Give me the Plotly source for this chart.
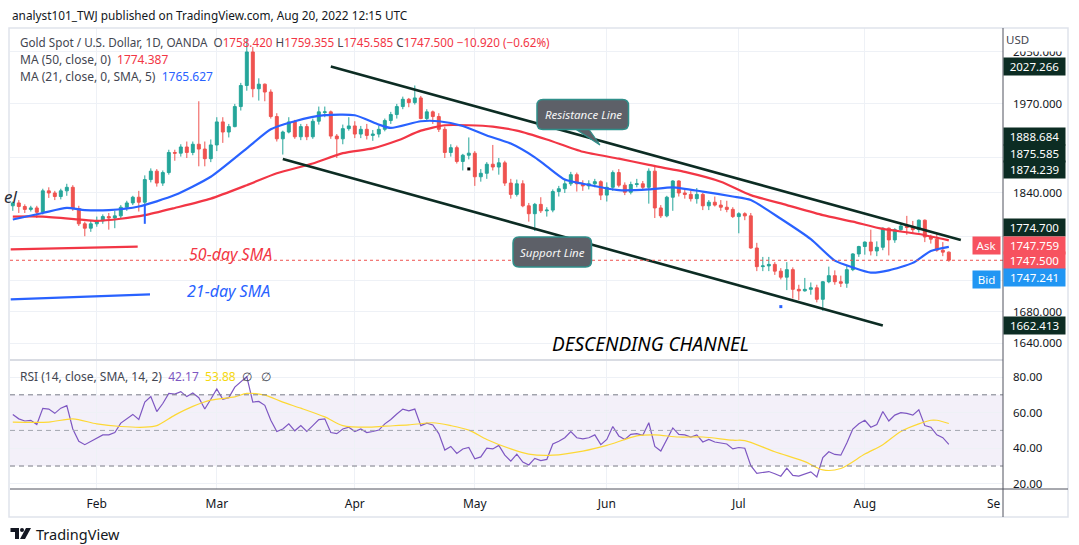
import numpy as np
import pandas as pd
import plotly.graph_objects as go

# ---------------- data ----------------
HOLIDAYS = ["2022-04-15"]
FIRST_DAY = "2022-01-12"
LAST_DAY = "2022-08-19"

OPEN = [1822,1826,1821,1817,1819,1813,1843,1840,1835,1843,1848,1818,1797,1791,
        1797,1801,1807,1805,1808,1820,1826,1834,1827,1859,1871,1854,1869,1898,1897,1906,1898,1910,1903,1889,
        1909,1943,1928,1936,1966,1998,2050,1993,2000,1988,1951,1918,1928,1943,1921,1936,1921,1944,1957,1958,1922,1918,1933,
        1937,1925,1932,1923,1925,1932,1945,1954,1966,1977,1972,1979,1948,1958,1951,1932,1898,1905,1885,1894,
        1897,1863,1868,1881,1877,1883,1854,1838,1853,1822,1811,1824,1815,1816,1842,1846,1853,1866,1853,1850,1853,1856,
        1837,1848,1869,1851,1841,1852,1853,1848,1871,1819,1808,1834,1857,1840,1838,1832,1838,1822,1827,1823,1820,1817,
        1807,1811,1808,1764,1739,1740,1742,1733,1725,1735,1709,1707,1709,1711,1696,1719,1727,1719,1717,1735,1756,
        1766,1772,1760,1765,1791,1775,1789,1794,1792,1789,1802,1779,1776,1761,1758.42]
HIGH = [1828,1830,1824,1822,1822,1846,1848,1843,1846,1853,1851,1822,1800,1801,
        1807,1810,1812,1815,1823,1829,1836,1843,1865,1875,1874,1872,1902,1902,1910,1914,1914,1974,1914,1917,
        1950,1950,1940,1970,2002,2070,2058,2009,2001,1992,1956,1930,1950,1946,1940,1940,1948,1966,1966,1960,1925,1939,1950,
        1944,1937,1940,1931,1937,1948,1958,1970,1981,1979,1998,1982,1962,1960,1956,1936,1910,1908,1896,1920,
        1900,1874,1884,1909,1890,1886,1860,1859,1858,1826,1826,1834,1820,1845,1850,1860,1870,1869,1858,1858,1860,1858,
        1855,1872,1874,1855,1856,1860,1857,1875,1880,1823,1836,1858,1858,1846,1843,1847,1840,1830,1835,1830,1829,1820,
        1813,1813,1812,1771,1752,1752,1745,1737,1745,1738,1715,1724,1718,1715,1720,1739,1734,1727,1740,1757,1767,
        1773,1789,1773,1792,1792,1791,1798,1808,1801,1803,1803,1782,1784,1772,1759.355]
LOW = [1815,1812,1812,1814,1805,1810,1833,1830,1831,1836,1815,1794,1780,1786,
       1793,1797,1789,1791,1805,1815,1823,1814,1823,1855,1849,1850,1866,1886,1892,1890,1894,1878,1878,1884,
       1900,1912,1920,1935,1960,1990,1980,1975,1974,1948,1914,1895,1926,1918,1916,1916,1918,1939,1950,1918,1890,1910,1930,
       1919,1919,1917,1915,1920,1929,1940,1948,1962,1965,1969,1947,1945,1940,1928,1890,1892,1882,1872,1888,
       1850,1856,1860,1872,1866,1850,1832,1835,1820,1800,1787,1812,1807,1813,1835,1840,1850,1842,1843,1845,1848,1830,
       1828,1843,1848,1837,1838,1848,1844,1825,1805,1805,1806,1815,1835,1832,1828,1825,1816,1816,1821,1815,1813,1805,
       1784,1802,1763,1733,1733,1733,1728,1722,1708,1697,1695,1706,1702,1692,1681,1717,1715,1712,1711,1733,1752,
       1755,1754,1753,1761,1754,1771,1786,1782,1784,1785,1772,1770,1759,1753,1745.585]
CLOSE = [1826,1821,1817,1819,1813,1843,1840,1835,1843,1848,1818,1797,1791,1797,
         1801,1807,1805,1808,1820,1826,1834,1827,1859,1871,1854,1869,1898,1897,1906,1898,1910,1903,1889,1909,
         1943,1928,1936,1966,1998,2050,1993,2000,1988,1951,1918,1928,1943,1921,1936,1921,1944,1958,1958,1922,1918,1933,1937,
         1925,1932,1923,1925,1932,1945,1954,1966,1977,1972,1979,1948,1958,1951,1932,1898,1905,1885,1894,1897,
         1863,1868,1881,1877,1883,1854,1838,1853,1822,1811,1824,1815,1816,1842,1846,1853,1866,1853,1850,1853,1856,1837,
         1848,1869,1851,1841,1852,1853,1848,1871,1819,1808,1834,1857,1840,1838,1832,1838,1822,1827,1823,1820,1817,1807,
         1811,1808,1764,1739,1740,1742,1733,1725,1735,1709,1707,1709,1711,1696,1719,1727,1719,1717,1735,1756,1766,
         1772,1760,1765,1791,1775,1789,1794,1792,1789,1802,1779,1776,1761,1758.42,1747.5]

MA50_DATES = ["2022-01-12","2022-01-19","2022-01-27","2022-02-01","2022-02-07","2022-02-11","2022-02-18",
              "2022-02-28","2022-03-08","2022-03-15","2022-03-23","2022-03-30","2022-04-06","2022-04-12",
              "2022-04-19","2022-04-25","2022-04-29","2022-05-05","2022-05-11","2022-05-18","2022-05-26",
              "2022-06-03","2022-06-10","2022-06-20","2022-06-28","2022-07-05","2022-07-13","2022-07-21",
              "2022-07-28","2022-08-04","2022-08-12","2022-08-19"]
MA50_VALUES = [1807,1807,1803,1801,1804,1809,1819,1832,1851,1868,1882,1897,1904,1915,1930,1938,1938,1936,
               1930,1917,1899,1889,1880,1870,1856,1837,1823,1809,1800,1790,1783,1774.387]

MA21_DATES = ["2022-01-12","2022-01-19","2022-01-25","2022-01-28","2022-02-03","2022-02-10","2022-02-18",
              "2022-02-28","2022-03-08","2022-03-14","2022-03-18","2022-03-25","2022-04-01","2022-04-07",
              "2022-04-11","2022-04-19","2022-04-22","2022-04-28","2022-05-04","2022-05-10","2022-05-16",
              "2022-05-18","2022-05-23","2022-05-26","2022-06-03","2022-06-10","2022-06-16","2022-06-23",
              "2022-06-30","2022-07-05","2022-07-12","2022-07-19","2022-07-25","2022-07-28","2022-08-02",
              "2022-08-05","2022-08-11","2022-08-16","2022-08-19"]
MA21_VALUES = [1803,1812,1819,1816,1816,1821,1837,1863,1904,1932,1944,1953,1953,1939,1934,1944,1944,1937,
               1923,1911,1891,1878,1859,1853,1844,1845,1848,1842,1835,1830,1804,1776,1747,1738,1731,1734,
               1744,1760,1765.627]

RSI = [59.0,56.5,55.3,55.7,53.3,62.4,62.0,59.6,62.5,63.9,
       50.8,43.9,42.0,43.9,45.5,47.5,47.5,48.8,54.1,56.7,
       59.0,56.1,65.9,69.0,60.6,65.1,70.8,70.4,71.8,69.0,
       71.0,68.4,62.0,67.5,73.3,67.5,68.4,74.3,77.3,80.2,
       65.9,66.3,64.1,55.7,49.4,50.8,53.7,49.8,52.7,49.4,
       52.7,56.1,56.5,48.8,48.2,50.8,51.8,49.4,50.8,48.8,
       49.4,50.2,53.7,56.1,59.2,62.0,61.0,62.0,52.7,54.1,
       53.1,48.2,39.0,41.0,37.1,39.6,40.4,34.1,35.1,40.0,
       39.6,41.6,36.1,32.7,36.7,32.2,30.6,34.3,33.1,33.7,
       42.4,43.9,45.9,49.4,45.9,45.3,45.9,47.5,42.0,44.9,
       52.2,46.9,44.9,47.8,48.2,47.3,54.3,41.0,38.4,44.9,
       51.4,47.8,47.5,46.3,47.5,43.5,44.9,43.5,42.9,42.4,
       39.6,40.4,40.0,30.2,25.9,26.3,26.9,25.7,24.3,28.8,
       24.7,24.3,25.3,26.7,23.9,34.7,38.0,36.5,36.1,42.9,
       50.8,53.7,55.7,51.8,53.3,60.6,55.3,58.6,60.0,59.6,
       58.6,61.6,52.7,51.8,47.5,45.9,42.17]

RSI_MA_DATES = ["2022-01-12","2022-01-20","2022-01-26","2022-02-01","2022-02-07","2022-02-11","2022-02-15",
                "2022-02-18","2022-02-23","2022-02-28","2022-03-04","2022-03-08","2022-03-11","2022-03-16",
                "2022-03-21","2022-03-25","2022-03-30","2022-04-05","2022-04-08","2022-04-14","2022-04-21",
                "2022-04-26","2022-04-29","2022-05-04","2022-05-10","2022-05-13","2022-05-19","2022-05-26",
                "2022-06-01","2022-06-08","2022-06-13","2022-06-17","2022-06-23","2022-06-30","2022-07-04",
                "2022-07-11","2022-07-18","2022-07-21","2022-07-26","2022-08-01","2022-08-04","2022-08-09",
                "2022-08-12","2022-08-16","2022-08-17","2022-08-19"]
RSI_MA_VALUES = [54.7,54.7,56.5,53.7,52.2,51.8,52.7,58.6,63.5,67.0,68.8,70.8,69.8,65.9,62.5,57.6,52.7,
                 51.8,52.4,53.1,54.3,52.7,50.2,44.9,39.6,36.7,36.1,38.4,41.6,46.9,47.5,46.3,46.3,44.5,
                 44.3,38.0,32.5,27.8,28.6,36.7,42.0,49.4,53.7,55.7,55.7,53.88]

UPPER_LINE_DATES = ["2022-03-28", "2022-08-23"]
UPPER_LINE_PRICES = [2027.266, 1774.700]
LOWER_LINE_DATES = ["2022-03-16", "2022-08-04"]
LOWER_LINE_PRICES = [1888.684, 1662.413]

MONTH_NAMES = {2: "Feb", 3: "Mar", 4: "Apr", 5: "May", 6: "Jun", 7: "Jul", 8: "Aug"}
PRICE_TICKS = [1640, 1680, 1720, 1780, 1840, 1890, 1970, 2050]
PRICE_TICK_TEXT = ["1640.000", "1680.000", "", "", "1840.000", "", "1970.000", "2050.000"]
RSI_TICKS = [20, 40, 60, 80]
RSI_TICK_TEXT = ["20.00", "40.00", "60.00", "80.00"]

# ---------------- helpers ----------------
DATES = pd.bdate_range(FIRST_DAY, LAST_DAY, freq="C", holidays=HOLIDAYS)
assert len(DATES) == len(CLOSE) == len(OPEN) == len(HIGH) == len(LOW) == len(RSI)
assert len(MA50_DATES) == len(MA50_VALUES)
assert len(MA21_DATES) == len(MA21_VALUES)
assert len(RSI_MA_DATES) == len(RSI_MA_VALUES)


def bar(d):
    return int(np.busday_count(np.datetime64(FIRST_DAY), np.datetime64(d), holidays=HOLIDAYS))


X = [bar(d.strftime("%Y-%m-%d")) for d in DATES]

tickvals, ticktext = [], []
prev_month = DATES[0].month
for i, d in enumerate(DATES):
    if d.month != prev_month:
        tickvals.append(X[i])
        ticktext.append(MONTH_NAMES[d.month])
    prev_month = d.month

W, H = 1079, 545
ML, MR, MT, MB = 10, 76, 28, 56
PW, PH = W - ML - MR, H - MT - MB
SPLIT = 0.28

X_LEFT = bar("2022-01-12") - (12.8 - 10) / 6.0
X_RIGHT = bar("2022-09-01") + 0.03


def PX(x):
    return (x - ML) / PW


def PY(y):
    return 1 - (y - MT) / PH


GREEN = "#26a69a"
RED = "#ef5350"
MA_RED = "#f23645"
MA_BLUE = "#2962ff"
GRID = "#eef1f6"
TXT = "#131722"
DARK = "#0c2c23"
FONT = "Noto Sans"

fig = go.Figure()

fig.add_trace(go.Candlestick(
    x=X, open=OPEN, high=HIGH, low=LOW, close=CLOSE,
    increasing=dict(line=dict(color=GREEN, width=1), fillcolor=GREEN),
    decreasing=dict(line=dict(color=RED, width=1), fillcolor=RED),
    xaxis="x", yaxis="y", showlegend=False, hoverinfo="skip"))

fig.add_trace(go.Scatter(x=[bar(d) for d in MA50_DATES], y=MA50_VALUES, mode="lines",
                         line=dict(color=MA_RED, width=2.2, shape="spline", smoothing=0.6),
                         xaxis="x", yaxis="y", showlegend=False, hoverinfo="skip"))
fig.add_trace(go.Scatter(x=[bar(d) for d in MA21_DATES], y=MA21_VALUES, mode="lines",
                         line=dict(color=MA_BLUE, width=2.2, shape="spline", smoothing=0.6),
                         xaxis="x", yaxis="y", showlegend=False, hoverinfo="skip"))

# channel lines
for ds, ps in [(UPPER_LINE_DATES, UPPER_LINE_PRICES), (LOWER_LINE_DATES, LOWER_LINE_PRICES)]:
    fig.add_trace(go.Scatter(x=[bar(d) for d in ds], y=ps, mode="lines",
                             line=dict(color=DARK, width=2.6),
                             xaxis="x", yaxis="y", showlegend=False, hoverinfo="skip"))

# current price dotted line
fig.add_trace(go.Scatter(x=[X_LEFT, X_RIGHT], y=[CLOSE[-1], CLOSE[-1]], mode="lines",
                         line=dict(color=RED, width=1, dash="dot"),
                         xaxis="x", yaxis="y", showlegend=False, hoverinfo="skip"))

# small drawing artifacts
fig.add_trace(go.Scatter(x=[bar("2022-02-11"), bar("2022-02-11")], y=[1797, 1823], mode="lines",
                         line=dict(color=MA_BLUE, width=2), xaxis="x", yaxis="y",
                         showlegend=False, hoverinfo="skip"))
fig.add_trace(go.Scatter(x=[bar("2022-07-12")], y=[1686.5], mode="markers",
                         marker=dict(color=MA_BLUE, size=3, symbol="square"), xaxis="x", yaxis="y",
                         showlegend=False, hoverinfo="skip"))
fig.add_trace(go.Scatter(x=[bar("2022-04-29")], y=[1874.239], mode="markers",
                         marker=dict(color="#000", size=3, symbol="square"), xaxis="x", yaxis="y",
                         showlegend=False, hoverinfo="skip"))

# RSI
fig.add_trace(go.Scatter(x=X, y=RSI, mode="lines", line=dict(color="#7e57c2", width=1.2),
                         xaxis="x", yaxis="y2", showlegend=False, hoverinfo="skip"))
fig.add_trace(go.Scatter(x=[bar(d) for d in RSI_MA_DATES], y=RSI_MA_VALUES, mode="lines",
                         line=dict(color="#fdd835", width=1.2, shape="spline", smoothing=0.8),
                         xaxis="x", yaxis="y2", showlegend=False, hoverinfo="skip"))

shapes = []
# RSI band and levels
shapes.append(dict(type="rect", xref="paper", yref="y2", x0=0, x1=1, y0=30, y1=70,
                   fillcolor="rgba(126,87,194,0.09)", line=dict(width=0), layer="below"))
for lvl, col in [(70, "#787b86"), (50, "#a3a6af"), (30, "#787b86")]:
    shapes.append(dict(type="line", xref="paper", yref="y2", x0=0, x1=1, y0=lvl, y1=lvl,
                       line=dict(color=col, width=1, dash="5px,4px")))
# panel separator
shapes.append(dict(type="line", xref="paper", yref="paper", x0=0, x1=1, y0=SPLIT, y1=SPLIT,
                   line=dict(color="#d9dce3", width=2)))
# outer frame
shapes.append(dict(type="rect", xref="paper", yref="paper", x0=PX(9), x1=PX(1068),
                   y0=PY(517), y1=PY(28), line=dict(color="#e0e3eb", width=1.5)))
# price scale border and time axis line
shapes.append(dict(type="line", xref="paper", yref="paper", x0=1, x1=1, y0=PY(517), y1=1,
                   line=dict(color="#50535e", width=1)))
shapes.append(dict(type="line", xref="paper", yref="paper", x0=0, x1=PX(1068), y0=0, y1=0,
                   line=dict(color="#50535e", width=1)))
# left drawing lines
shapes.append(dict(type="line", xref="paper", yref="paper", x0=PX(10.7), y0=PY(249.3), x1=PX(137.7),
                   y1=PY(246.7), line=dict(color=MA_RED, width=2.2)))
shapes.append(dict(type="line", xref="paper", yref="paper", x0=PX(10.7), y0=PY(299.3), x1=PX(150),
                   y1=PY(294.3), line=dict(color=MA_BLUE, width=2.2)))


def rounded_rect(x0, y0, x1, y1, r):
    pts = [("M", x0 + r, y0), ("L", x1 - r, y0), ("Q", x1, y0, x1, y0 + r), ("L", x1, y1 - r),
           ("Q", x1, y1, x1 - r, y1), ("L", x0 + r, y1), ("Q", x0, y1, x0, y1 - r),
           ("L", x0, y0 + r), ("Q", x0, y0, x0 + r, y0)]
    out = []
    for p in pts:
        if p[0] == "Q":
            out.append("Q%.5f,%.5f %.5f,%.5f" % (PX(p[1]), PY(p[2]), PX(p[3]), PY(p[4])))
        else:
            out.append("%s%.5f,%.5f" % (p[0], PX(p[1]), PY(p[2])))
    return " ".join(out) + " Z"


BOX_FILL = "#5d6068"
BOX_EDGE = "#2f8f8a"
tail = "M%.5f,%.5f L%.5f,%.5f L%.5f,%.5f Z" % (PX(574), PY(128), PX(588), PY(128), PX(600), PY(145))
shapes.append(dict(type="path", xref="paper", yref="paper", path=tail, fillcolor=BOX_FILL,
                   line=dict(color=BOX_EDGE, width=1.2)))
shapes.append(dict(type="path", xref="paper", yref="paper", path=rounded_rect(537, 99.5, 628.5, 129.5, 6),
                   fillcolor=BOX_FILL, line=dict(color=BOX_EDGE, width=1.5)))
shapes.append(dict(type="path", xref="paper", yref="paper", path=rounded_rect(513, 237, 591.5, 267, 6),
                   fillcolor=BOX_FILL, line=dict(color=BOX_EDGE, width=1.5)))

# TradingView logo
logo = ("M%.5f,%.5f L%.5f,%.5f L%.5f,%.5f L%.5f,%.5f L%.5f,%.5f L%.5f,%.5f Z" %
        (PX(10.5), PY(528), PX(19), PY(528), PX(19), PY(539), PX(15), PY(539), PX(15), PY(532), PX(10.5), PY(532)))
shapes.append(dict(type="path", xref="paper", yref="paper", path=logo, fillcolor="#131722", line=dict(width=0)))
shapes.append(dict(type="circle", xref="paper", yref="paper", x0=PX(20), x1=PX(24), y0=PY(532), y1=PY(528),
                   fillcolor="#131722", line=dict(width=0)))
logo2 = "M%.5f,%.5f L%.5f,%.5f L%.5f,%.5f L%.5f,%.5f Z" % (PX(26), PY(528), PX(31), PY(528), PX(25), PY(539), PX(20), PY(539))
shapes.append(dict(type="path", xref="paper", yref="paper", path=logo2, fillcolor="#131722", line=dict(width=0)))

NB = "\u00a0"
ann = []


def text(x, y, t, size=12, color=TXT, xanchor="left", italic=False, family=FONT, **kw):
    d = dict(xref="paper", yref="paper", x=PX(x), y=PY(y), text=("<i>%s</i>" % t) if italic else t,
             showarrow=False, xanchor=xanchor, yanchor="middle",
             font=dict(size=size, color=color, family=family))
    d.update(kw)
    ann.append(d)


text(10, 15, "analyst101_TWJ published on TradingView.com, Aug 20, 2022 12:15 UTC", size=11.8)
red_span = "<span style='color:%s'>%%s</span>" % MA_RED
legend1 = ("Gold Spot / U.S. Dollar, 1D, OANDA" + NB * 2 + "O" + red_span % "1758.420" + NB + "H" + red_span % "1759.355"
           + NB + "L" + red_span % "1745.585" + NB + "C" + red_span % "1747.500" + NB
           + red_span % "\u221210.920 (\u22120.62%)")
text(18, 42, legend1, size=11.7, color="#434651")
text(18, 59, "MA (50, close, 0)" + NB * 2 + red_span % "1774.387", size=12, color="#434651")
text(18, 76, "MA (21, close, 0, SMA, 5)" + NB * 2 + "<span style='color:%s'>1765.627</span>" % MA_BLUE,
     size=12, color="#434651")
text(18, 376, "RSI (14, close, SMA, 14, 2)" + NB * 2 + "<span style='color:#7e57c2'>42.17</span>" + NB * 2
     + "<span style='color:#f5d80f'>53.88</span>" + NB * 2 + "\u2205" + NB * 3 + "\u2205", size=12, color="#434651")

text(187, 254, "50-day SMA", size=16, color=MA_RED, italic=True)
text(185, 291, "21-day SMA", size=16, color=MA_BLUE, italic=True)
text(650, 344, "DESCENDING CHANNEL", size=19, color="#000000", xanchor="center", italic=True)
text(583, 115, "Resistance Line", size=11.5, color="#f5f5f5", xanchor="center", italic=True)
text(552, 252, "Support Line", size=11.5, color="#f5f5f5", xanchor="center", italic=True)
text(19, 197, "el", size=17, color="#2a2e39", xanchor="right", italic=True)
# USD caption sits on a white patch that hides the top of the 2050 label, as in the reference
ann.append(dict(xref="paper", yref="paper", x=PX(1005), y=PY(31), text="USD", showarrow=False,
                xanchor="left", yanchor="top", align="left", valign="top", bgcolor="#ffffff",
                width=58, height=19, borderpad=0, font=dict(size=11.5, color="#434651", family=FONT)))
text(1003, 503.5, "Se", size=12, color=TXT, xanchor="right")
text(34, 533.5, "TradingView", size=14.5, color="#131722")


def axis_box(price, bg, shift=0.0):
    ann.append(dict(xref="paper", yref="y", x=1.0, y=np.log10(price), yshift=shift,
                    text="%.3f" % price, showarrow=False, xanchor="left", yanchor="middle",
                    bgcolor=bg, width=57, height=13, borderpad=2,
                    font=dict(size=11.5, color="#ffffff", family=FONT)))


axis_box(2027.266, DARK, 0)
axis_box(1888.684, DARK, 22)
axis_box(1875.585, DARK, 14.7)
axis_box(1874.239, DARK, -1)
axis_box(1774.700, DARK, 13)
axis_box(1747.759, "#f7525f", 15)
axis_box(1747.500, "#f7525f", 0)
axis_box(1747.241, "#2196f3", -17.5)
axis_box(1662.413, DARK, 0)

for lab, bg, yy in [("Ask", "#f7525f", 245), ("Bid", "#2196f3", 279)]:
    ann.append(dict(xref="paper", yref="paper", x=PX(1001), y=PY(yy), text=lab, showarrow=False,
                    xanchor="right", yanchor="middle", bgcolor=bg, width=23, height=13, borderpad=2,
                    font=dict(size=11.5, color="#ffffff", family=FONT)))

fig.update_layout(
    width=W, height=H, margin=dict(l=ML, r=MR, t=MT, b=MB),
    paper_bgcolor="#ffffff", plot_bgcolor="#ffffff",
    font=dict(family=FONT, color=TXT), showlegend=False,
    xaxis=dict(domain=[0, 1], anchor="y2", range=[X_LEFT, X_RIGHT], tickvals=tickvals, ticktext=ticktext,
               showgrid=True, gridcolor=GRID, gridwidth=1, zeroline=False, showline=False, ticks="",
               tickfont=dict(size=12, color=TXT, family=FONT), ticklabelstandoff=6,
               rangeslider=dict(visible=False), automargin=False, fixedrange=True),
    yaxis=dict(domain=[SPLIT, 1], anchor="x", type="log", range=[np.log10(1619), np.log10(2088)],
               side="right", tickvals=PRICE_TICKS, ticktext=PRICE_TICK_TEXT, showgrid=True, gridcolor=GRID,
               zeroline=False, showline=False, ticks="", tickfont=dict(size=11.5, color=TXT, family=FONT),
               ticklabelstandoff=9, automargin=False),
    yaxis2=dict(domain=[0, SPLIT], anchor="x", range=[17.1, 89.6], side="right", tickvals=RSI_TICKS,
                ticktext=RSI_TICK_TEXT, showgrid=True, gridcolor=GRID, zeroline=False, showline=False, ticks="",
                tickfont=dict(size=11.5, color=TXT, family=FONT), ticklabelstandoff=9, automargin=False),
    shapes=shapes, annotations=ann,
)

fig.write_html("out.html", config={"displayModeBar": False},
               post_script="document.body.style.margin='0';document.body.style.padding='0';")
